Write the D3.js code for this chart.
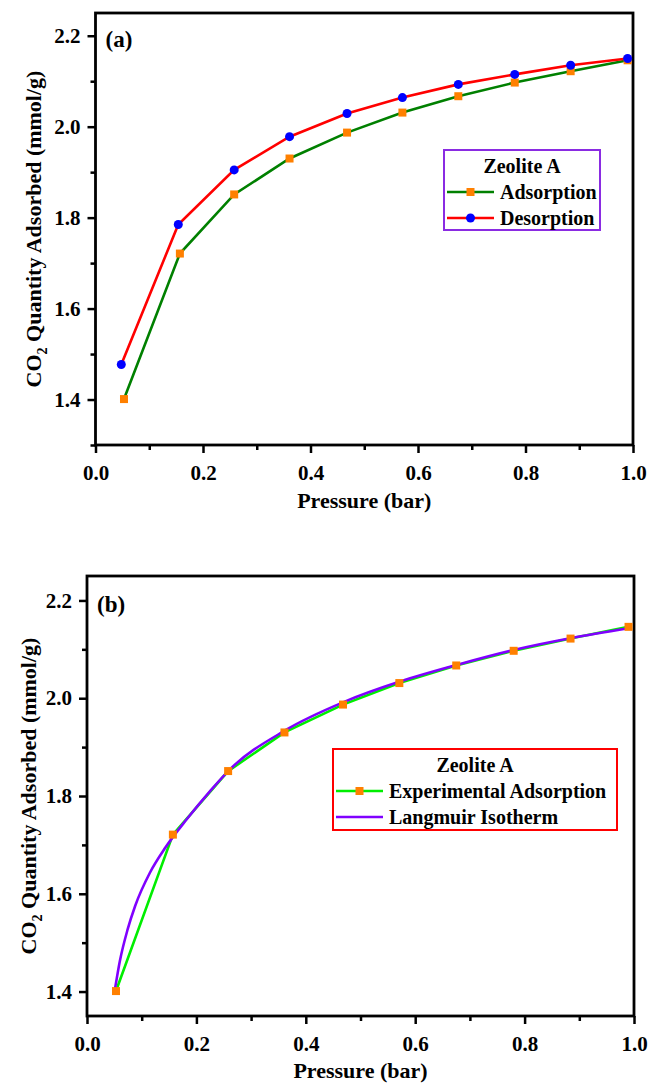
<!DOCTYPE html>
<html>
<head>
<meta charset="utf-8">
<script src="https://cdn.jsdelivr.net/npm/d3@7"></script>
<style>
  body { margin: 0; background: #fff; }
  svg text { font-family: "Liberation Serif", "Times New Roman", serif; font-weight: bold; fill: #000; }
</style>
</head>
<body>
<svg id="chart" width="648" height="1083"></svg>
<script>
// pressure (bar) and CO2 uptake (mmol/g)
const adsPressure = [0.053, 0.157, 0.258, 0.361, 0.468, 0.571, 0.675, 0.780, 0.884, 0.990];
const adsUptake   = [1.401, 1.721, 1.851, 1.930, 1.987, 2.031, 2.067, 2.097, 2.122, 2.146];
const desPressure = [0.048, 0.154, 0.258, 0.361, 0.468, 0.571, 0.675, 0.780, 0.884, 0.990];
const desUptake   = [1.477, 1.785, 1.905, 1.978, 2.029, 2.064, 2.093, 2.115, 2.135, 2.150];
// Langmuir fit curve, sampled from the figure
const langPressure = [0.051, 0.060, 0.074, 0.088, 0.115, 0.143, 0.182, 0.225, 0.260, 0.362, 0.469, 0.572, 0.679, 0.782, 0.886, 0.990];
const langUptake   = [1.404, 1.462, 1.526, 1.575, 1.643, 1.694, 1.752, 1.810, 1.853, 1.934, 1.992, 2.034, 2.069, 2.099, 2.123, 2.143];

const xMajor = [0, 0.2, 0.4, 0.6, 0.8, 1.0];
const xMinor = [0.1, 0.3, 0.5, 0.7, 0.9];
const yMajor = [1.4, 1.6, 1.8, 2.0, 2.2];
const yMinorA = [1.3, 1.5, 1.7, 1.9, 2.1];
const yMinorB = [1.5, 1.7, 1.9, 2.1];

const svg = d3.select("#chart");
const zip = (xs, ys) => xs.map((x, i) => ({ x: x, y: ys[i] }));

function drawPanel(opt) {
    const x = d3.scaleLinear().domain([0, 1]).range([opt.left, opt.right]);
    const y = d3.scaleLinear().domain(opt.yDomain).range([opt.bottom, opt.top]);
    const g = svg.append("g");

    // axes (ticks outward)
    const xa = g.append("g").attr("transform", `translate(0,${opt.bottom})`)
        .call(d3.axisBottom(x).tickValues(xMajor).tickSize(8).tickPadding(8).tickFormat(d3.format(".1f")));
    g.append("g").attr("transform", `translate(0,${opt.bottom})`)
        .call(d3.axisBottom(x).tickValues(xMinor).tickSize(5).tickFormat(""));
    const ya = g.append("g").attr("transform", `translate(${opt.left},0)`)
        .call(d3.axisLeft(y).tickValues(yMajor).tickSize(8).tickPadding(7).tickFormat(d3.format(".1f")));
    g.append("g").attr("transform", `translate(${opt.left},0)`)
        .call(d3.axisLeft(y).tickValues(opt.yMinor).tickSize(5).tickFormat(""));
    g.selectAll(".domain").remove();
    g.selectAll(".tick line").attr("stroke", "#000").attr("stroke-width", 2.5);
    g.selectAll(".tick text").style("font-size", "21px").attr("fill", "#000");
    xa.selectAll(".tick text").attr("dy", "0.9em");

    // frame
    g.append("rect")
        .attr("x", opt.left).attr("y", opt.top)
        .attr("width", opt.right - opt.left).attr("height", opt.bottom - opt.top)
        .attr("fill", "none").attr("stroke", "#000").attr("stroke-width", 2.8);

    // series
    const line = d3.line().x(d => x(d.x)).y(d => y(d.y));
    opt.series.forEach(s => {
        g.append("path").datum(s.data)
            .attr("d", line.curve(s.curve || d3.curveLinear))
            .attr("fill", "none").attr("stroke", s.color).attr("stroke-width", 2.6);
    });
    opt.series.forEach(s => {
        if (s.marker === "square") {
            g.selectAll(null).data(s.data).enter().append("rect")
                .attr("x", d => x(d.x) - 4).attr("y", d => y(d.y) - 4)
                .attr("width", 8).attr("height", 8).attr("fill", s.markerColor);
        } else if (s.marker === "circle") {
            g.selectAll(null).data(s.data).enter().append("circle")
                .attr("cx", d => x(d.x)).attr("cy", d => y(d.y))
                .attr("r", 4.5).attr("fill", s.markerColor);
        }
    });

    // panel tag
    g.append("text").attr("x", opt.left + 10).attr("y", opt.top + opt.tagDy)
        .style("font-size", "23px").text(opt.tag);

    // axis titles
    g.append("text").attr("x", (opt.left + opt.right) / 2).attr("y", opt.xTitleY)
        .attr("text-anchor", "middle").style("font-size", "22px").text("Pressure (bar)");
    const yt = g.append("text")
        .attr("transform", `translate(${opt.yTitleX},${(opt.top + opt.bottom) / 2}) rotate(-90)`)
        .attr("text-anchor", "middle").style("font-size", "22px");
    yt.append("tspan").text("CO");
    yt.append("tspan").attr("dy", 6).style("font-size", "14px").text("2");
    yt.append("tspan").attr("dy", -6).text(" Quantity Adsorbed (mmol/g)");

    // legend
    const L = opt.legend;
    const lg = g.append("g");
    lg.append("rect").attr("x", L.x).attr("y", L.y).attr("width", L.w).attr("height", L.h)
        .attr("fill", "#fff").attr("stroke", L.border).attr("stroke-width", 2);
    lg.append("text").attr("x", L.x + L.w / 2).attr("y", L.y + 23)
        .attr("text-anchor", "middle").style("font-size", "20px").text("Zeolite A");
    opt.series.forEach((s, i) => {
        const cy = L.y + 42 + i * 26;
        lg.append("line").attr("x1", L.x + 3).attr("x2", L.x + 50).attr("y1", cy).attr("y2", cy)
            .attr("stroke", s.color).attr("stroke-width", 2.6);
        if (s.marker === "square") {
            lg.append("rect").attr("x", L.x + 22.5).attr("y", cy - 4).attr("width", 8).attr("height", 8)
                .attr("fill", s.markerColor);
        } else if (s.marker === "circle") {
            lg.append("circle").attr("cx", L.x + 26.5).attr("cy", cy).attr("r", 4.5).attr("fill", s.markerColor);
        }
        lg.append("text").attr("x", L.x + 56).attr("y", cy + 7).style("font-size", "20px").text(s.name);
    });
}

drawPanel({
    left: 95.5, right: 633, top: 13, bottom: 445,
    yDomain: [1.3, 2.25], yMinor: yMinorA,
    tag: "(a)", tagDy: 34, xTitleY: 508, yTitleX: 41,
    legend: { x: 444, y: 150, w: 156, h: 80, border: "#8a2be2" },
    series: [
        { name: "Adsorption", data: zip(adsPressure, adsUptake), color: "#008000", marker: "square", markerColor: "#ff8000" },
        { name: "Desorption", data: zip(desPressure, desUptake), color: "#ff0000", marker: "circle", markerColor: "#0000ff" }
    ]
});

drawPanel({
    left: 87, right: 634, top: 576, bottom: 1016,
    yDomain: [1.35, 2.25], yMinor: yMinorB,
    tag: "(b)", tagDy: 36, xTitleY: 1078, yTitleX: 36,
    legend: { x: 333, y: 749, w: 284, h: 81, border: "#ff0000" },
    series: [
        { name: "Experimental Adsorption", data: zip(adsPressure, adsUptake), color: "#00ee00", marker: "square", markerColor: "#ff8000" },
        { name: "Langmuir Isotherm", data: zip(langPressure, langUptake), color: "#8000ff", curve: d3.curveMonotoneX }
    ]
});
</script>
</body>
</html>
